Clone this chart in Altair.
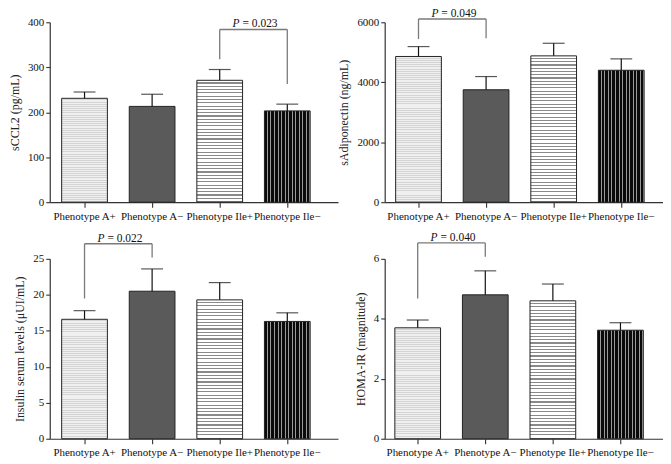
import altair as alt
import pandas as pd

# ---------------- data ----------------
groups = ["Phenotype A+", "Phenotype A−", "Phenotype Ile+", "Phenotype Ile−"]

sccl2_mean = [231, 213, 271, 203]
sccl2_upper = [245, 240, 295, 218]
adipo_mean = [4860, 3750, 4880, 4400]
adipo_upper = [5190, 4190, 5300, 4780]
insulin_mean = [16.6, 20.5, 19.3, 16.3]
insulin_upper = [17.8, 23.6, 21.7, 17.5]
homa_mean = [3.70, 4.80, 4.60, 3.62]
homa_upper = [3.96, 5.60, 5.16, 3.87]

means = [sccl2_mean, adipo_mean, insulin_mean, homa_mean]
uppers = [sccl2_upper, adipo_upper, insulin_upper, homa_upper]

y_titles = ["sCCL2 (pg/mL)", "sAdiponectin (ng/mL)",
            "Insulin serum levels (μUI/mL)", "HOMA-IR (magnitude)"]
y_domains = [[0, 400], [0, 6000], [0, 25], [0, 6]]
y_ticks = [[0, 100, 200, 300, 400], [0, 2000, 4000, 6000],
           [0, 5, 10, 15, 20, 25], [0, 2, 4, 6]]

bracket_left = ["Phenotype Ile+", "Phenotype A+", "Phenotype A+", "Phenotype A+"]
bracket_right = ["Phenotype Ile−", "Phenotype A−", "Phenotype A−", "Phenotype A−"]
bracket_top = [384, 6110, 27.1, 6.53]
bracket_left_leg = [318, 5440, 19.5, 4.68]
bracket_right_leg = [263, 5470, 25.2, 6.07]
p_values = ["= 0.023", "= 0.049", "= 0.022", "= 0.040"]

# ---------------- styling ----------------
SERIF = "Liberation Serif"
PANEL_W = [290, 280, 290, 280]
PANEL_H = 181
PAD_OUTER = [0.2941, 0.2206, 0.2941, 0.2206]
ALIGN = [0.30, 0.367, 0.30, 0.34]
PAD_INNER = 0.3235


def stripes(bg, line, n, frac, vertical_stripes):
    stops = []
    for k in range(n):
        a = round(k / n, 5)
        b = round((k + 1 - frac) / n, 5)
        c = round((k + 1) / n, 5)
        stops += [alt.GradientStop(offset=a, color=bg),
                  alt.GradientStop(offset=b, color=bg),
                  alt.GradientStop(offset=b, color=line),
                  alt.GradientStop(offset=c, color=line)]
    if vertical_stripes:
        return alt.LinearGradient(gradient="linear", stops=stops, x1=0, x2=1, y1=0, y2=0)
    return alt.LinearGradient(gradient="linear", stops=stops, x1=0, x2=0, y1=0, y2=1)


def panel(i):
    df = pd.DataFrame({"group": groups, "mean": means[i], "upper": uppers[i]})
    xscale = alt.Scale(domain=groups, paddingInner=PAD_INNER,
                       paddingOuter=PAD_OUTER[i], align=ALIGN[i])
    xaxis = alt.Axis(title=None, labelAngle=0, tickSize=5, labelPadding=3)
    yscale = alt.Scale(domain=y_domains[i], nice=False, zero=True)
    yaxis = alt.Axis(values=y_ticks[i], title=y_titles[i], tickSize=4,
                     labelPadding=2, titlePadding=6, format="d")

    def X(f="group"):
        return alt.X(f"{f}:N", scale=xscale, axis=xaxis, sort=groups)

    def Y(f):
        return alt.Y(f"{f}:Q", scale=yscale, axis=yaxis)

    H = PANEL_H
    px = [m / y_domains[i][1] * H for m in means[i]]
    fills = [
        stripes("#f0f0f0", "#d4d4d4", max(8, round(px[0] / 2.2)), 0.45, False),
        "#5a5a5a",
        stripes("#ffffff", "#8a8a8a", max(8, round(px[2] / 3.3)), 0.35, False),
        stripes("#0a0a0a", "#9a9a9a", 13, 0.28, True),
    ]

    base = alt.Chart(df)
    layers = []
    for k, g in enumerate(groups):
        layers.append(
            base.transform_filter(alt.datum.group == g)
            .mark_bar(fill=fills[k], stroke="#222222", strokeWidth=1)
            .encode(x=X(), y=Y("mean"))
        )
    layers.append(base.mark_rule(color="#111111", strokeWidth=1.2)
                  .encode(x=X(), y=Y("mean"), y2="upper:Q"))
    layers.append(base.mark_tick(color="#111111", thickness=1.2, size=22,
                                 orient="horizontal")
                  .encode(x=X(), y=Y("upper")))

    legs = pd.DataFrame({"group": [bracket_left[i], bracket_right[i]],
                         "top": [bracket_top[i]] * 2,
                         "leg": [bracket_left_leg[i], bracket_right_leg[i]]})
    layers.append(alt.Chart(legs).mark_rule(color="#7a7a7a", strokeWidth=1.3)
                  .encode(x=X(), y=Y("top"), y2="leg:Q"))
    hl = pd.DataFrame({"group": [bracket_left[i]], "group2": [bracket_right[i]],
                       "top": [bracket_top[i]]})
    layers.append(alt.Chart(hl).mark_rule(color="#7a7a7a", strokeWidth=1.3)
                  .encode(x=X(), x2="group2:N", y=Y("top")))
    layers.append(alt.Chart(hl).mark_text(text="P", fontStyle="italic", font=SERIF,
                                          fontSize=11.5, align="right", baseline="bottom",
                                          dx=34 - 14, dy=0, color="#111111")
                  .encode(x=X(), y=Y("top")))
    layers.append(alt.Chart(hl).mark_text(text=p_values[i], font=SERIF,
                                          fontSize=11.5, align="left", baseline="bottom",
                                          dx=34 - 11, dy=0, color="#111111")
                  .encode(x=X(), y=Y("top")))
    return alt.layer(*layers).properties(width=PANEL_W[i], height=PANEL_H)


chart = alt.concat(panel(0), panel(1), panel(2), panel(3), columns=2,
                   spacing={"row": 57, "column": 47}, bounds="flush").properties(
    padding={"left": 0, "top": -2, "right": 0, "bottom": 0}
).configure_view(stroke=None).configure_axis(
    labelFont=SERIF, titleFont=SERIF, labelFontSize=11, titleFontSize=12,
    titleFontWeight="normal", domainColor="#333333", tickColor="#333333",
    labelColor="#111111", titleColor="#222222", grid=False, domainWidth=1.2,
    tickWidth=1.1
)

chart.save("out.html", embed_options={"renderer": "svg", "actions": False})
